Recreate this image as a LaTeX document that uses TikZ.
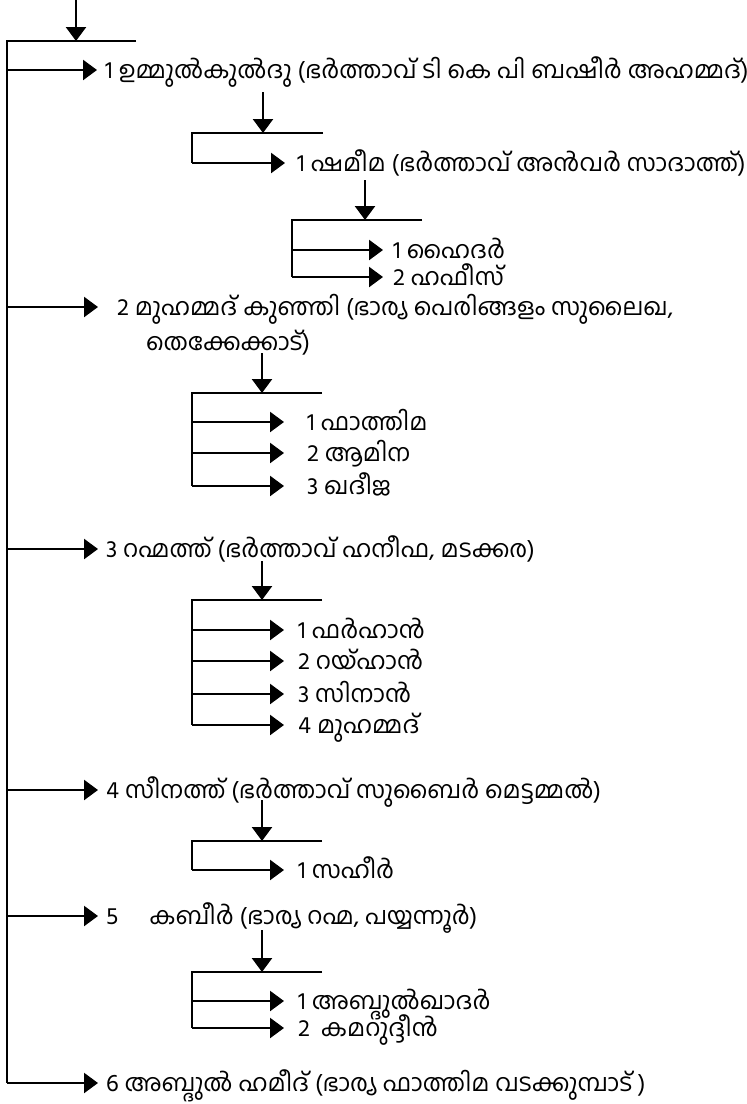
\documentclass[tikz,border=0pt]{standalone}
\usepackage{fontspec}
\newfontfamily\malfont[Script=Malayalam]{Hind Kochi}
\usetikzlibrary{arrows.meta}

\tikzset{
  wire/.style={line width=2.4pt},
  pointer/.style={wire, -{Triangle[length=14pt,width=20pt]}},
  person/.style={font=\malfont\fontsize{24}{28}\selectfont, anchor=west,
    inner xsep=8pt, inner ysep=0pt, text height=16pt, text depth=0pt}
}

\begin{document}
\begin{tikzpicture}[x=1pt, y=-1pt]
\useasboundingbox (0,0) rectangle (747,1104);

% children and grandchildren
\node[person] (c1) at (97,70) {1 ഉമ്മുൽകുൽദു (ഭർത്താവ് ടി കെ പി ബഷീർ അഹമ്മദ്)};
\node[person, inner xsep=12pt] (c11) at (285,163) {1 ഷമീമ (ഭർത്താവ് അൻവർ സാദാത്ത്)};
\node[person, inner xsep=10pt] (c111) at (383,250) {1 ഹൈദർ};
\node[person, inner xsep=10pt] (c112) at (383,277) {2 ഹഫീസ്};

\node[person, inner xsep=19pt] (c2) at (98,307) {2 മുഹമ്മദ് കുഞ്ഞി (ഭാര്യ പെരിങ്ങളം സുലൈഖ,};
\node[person, inner xsep=0pt] (c2b) at (146,342) {തെക്കേക്കാട്)};
\node[person, inner xsep=23pt] (c21) at (284,422) {1 ഫാത്തിമ};
\node[person, inner xsep=23pt] (c22) at (284,453) {2 ആമിന};
\node[person, inner xsep=23pt] (c23) at (284,486) {3 ഖദീജ};

\node[person] (c3) at (98,549) {3 റഹ്മത്ത് (ഭർത്താവ് ഹനീഫ, മടക്കര)};
\node[person, inner xsep=14pt] (c31) at (284,630) {1 ഫർഹാൻ};
\node[person, inner xsep=14pt] (c32) at (284,661) {2 റയ്ഹാൻ};
\node[person, inner xsep=14pt] (c33) at (284,694) {3 സിനാൻ};
\node[person, inner xsep=14pt] (c34) at (284,725) {4 മുഹമ്മദ്};

\node[person] (c4) at (98,790) {4 സീനത്ത് (ഭർത്താവ് സുബൈർ മെട്ടമ്മൽ)};
\node[person, inner xsep=14pt] (c41) at (284,870) {1 സഹീർ};

\node[person] (c5) at (98,916) {5\hspace{31pt}കബീർ (ഭാര്യ റഹ്മ, പയ്യന്നൂർ)};
\node[person, inner xsep=14pt] (c51) at (284,1001) {1 അബ്ദുൽഖാദർ};
\node[person, inner xsep=14pt] (c52) at (284,1028) {2\hspace{5pt} കമറുദ്ദീൻ};

\node[person] (c6) at (98,1083) {6 അബ്ദുൽ ഹമീദ് (ഭാര്യ ഫാത്തിമ വടക്കുമ്പാട് )};

% bars
\coordinate (in) at (76,0);
\coordinate (k0) at (76,41);  \coordinate (k0l) at (7,41);   \coordinate (k0r) at (136,41);
\coordinate (d1) at (263,92); \coordinate (k1) at (263,133); \coordinate (k1l) at (192,133); \coordinate (k1r) at (323,133);
\coordinate (d11) at (365,180); \coordinate (k11) at (365,220); \coordinate (k11l) at (292,220); \coordinate (k11r) at (422,220);
\coordinate (d2) at (262,353); \coordinate (k2) at (262,393); \coordinate (k2l) at (192,393); \coordinate (k2r) at (322,393);
\coordinate (d3) at (262,561); \coordinate (k3) at (262,600); \coordinate (k3l) at (192,600); \coordinate (k3r) at (322,600);
\coordinate (d4) at (262,800); \coordinate (k4) at (262,841); \coordinate (k4l) at (192,841); \coordinate (k4r) at (322,841);
\coordinate (d5) at (262,930); \coordinate (k5) at (262,972); \coordinate (k5l) at (192,972); \coordinate (k5r) at (322,972);

\draw[wire] (k0r) -- (k0l) -- (k0l |- c6);
\draw[wire] (k1r) -- (k1l) -- (k1l |- c11);
\draw[wire] (k11r) -- (k11l) -- (k11l |- c112);
\draw[wire] (k2r) -- (k2l) -- (k2l |- c23);
\draw[wire] (k3r) -- (k3l) -- (k3l |- c34);
\draw[wire] (k4r) -- (k4l) -- (k4l |- c41);
\draw[wire] (k5r) -- (k5l) -- (k5l |- c52);

\path[pointer]
    (in) edge (k0)
    (k0l |- c1) edge (c1)
    (k0l |- c2) edge (c2)
    (k0l |- c3) edge (c3)
    (k0l |- c4) edge (c4)
    (k0l |- c5) edge (c5)
    (k0l |- c6) edge (c6)

    (d1) edge (k1)
    (k1l |- c11) edge (c11)
    (d11) edge (k11)
    (k11l |- c111) edge (c111)
    (k11l |- c112) edge (c112)

    (d2) edge (k2)
    (k2l |- c21) edge (c21)
    (k2l |- c22) edge (c22)
    (k2l |- c23) edge (c23)

    (d3) edge (k3)
    (k3l |- c31) edge (c31)
    (k3l |- c32) edge (c32)
    (k3l |- c33) edge (c33)
    (k3l |- c34) edge (c34)

    (d4) edge (k4)
    (k4l |- c41) edge (c41)

    (d5) edge (k5)
    (k5l |- c51) edge (c51)
    (k5l |- c52) edge (c52);

\end{tikzpicture}
\end{document}
